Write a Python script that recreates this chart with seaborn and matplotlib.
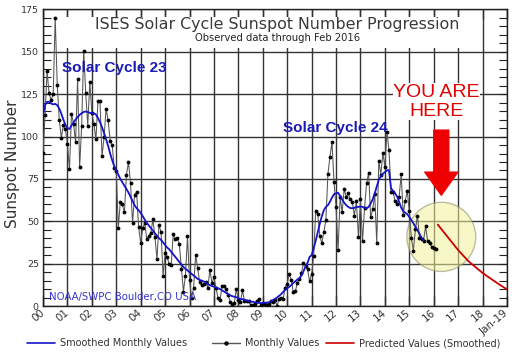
import numpy as np
import pandas as pd
import matplotlib
matplotlib.use("Agg")
import matplotlib.pyplot as plt
import seaborn as sns
from matplotlib.patches import Ellipse, Rectangle
from matplotlib.lines import Line2D
from matplotlib.ticker import MultipleLocator

# ---------------- data ----------------
start_year = 2000
# Monthly observed values, Jan 2000 .. Feb 2016
monthly_values = [
    90.1, 112.9, 138.5, 125.5, 121.6, 124.9, 170.1, 130.5, 109.7, 99.4, 106.8, 104.4,   # 2000
    95.6, 80.6, 113.5, 107.7, 96.6, 134.0, 81.8, 106.4, 150.7, 125.5, 106.5, 132.2,    # 2001
    114.1, 107.4, 98.4, 120.7, 120.8, 88.3, 99.6, 116.4, 109.6, 97.5, 95.0, 81.6,      # 2002
    79.5, 46.2, 61.5, 60.0, 55.2, 77.4, 85.0, 72.7, 48.8, 65.6, 67.2, 46.5,            # 2003
    37.2, 46.0, 48.9, 39.3, 41.5, 43.2, 51.1, 40.9, 27.7, 48.0, 43.5, 17.9,            # 2004
    31.3, 29.2, 24.5, 24.4, 42.6, 39.6, 39.9, 36.4, 22.1, 8.5, 18.0, 41.2,             # 2005
    15.3, 4.9, 10.6, 30.2, 22.3, 13.9, 12.2, 12.9, 14.4, 10.5, 21.4, 13.6,             # 2006
    16.9, 10.6, 4.8, 3.7, 11.7, 12.0, 10.0, 6.2, 2.4, 0.9, 1.7, 10.1,                  # 2007
    3.3, 2.1, 9.3, 2.9, 2.9, 3.1, 0.5, 0.5, 1.1, 2.9, 4.1, 0.8,                        # 2008
    1.5, 1.4, 0.7, 1.2, 2.9, 2.6, 3.5, 0.0, 4.3, 4.8, 4.1, 10.8,                       # 2009
    13.2, 18.8, 15.4, 8.0, 8.7, 13.6, 16.1, 19.6, 25.2, 23.5, 21.6, 14.5,              # 2010
    19.0, 29.4, 56.2, 54.4, 41.6, 37.0, 43.9, 50.6, 78.0, 88.0, 96.7, 73.0,            # 2011
    58.3, 32.9, 64.3, 55.2, 69.0, 64.5, 66.5, 63.0, 61.4, 53.3, 61.8, 40.8,            # 2012
    62.9, 38.1, 57.9, 72.4, 78.7, 52.5, 57.0, 66.0, 37.0, 85.6, 77.6, 90.3,            # 2013
    82.0, 102.8, 92.2, 67.5, 67.5, 61.7, 60.1, 64.1, 78.0, 54.0, 62.2, 67.7,           # 2014
    55.8, 40.0, 32.7, 45.2, 53.3, 39.9, 39.5, 38.6, 47.2, 38.2, 37.3, 34.8,            # 2015
    34.2, 33.8,                                                                        # 2016
]
# Smoothed monthly values, Jan 2000 .. Aug 2015
smoothed_values = [
    113, 118.5, 120.5, 120.5, 119.5, 119, 119.3, 118.5, 116.5, 113.5, 110, 107,
    105, 104.5, 106.5, 108.5, 110, 111.5, 112.8, 113.8, 114.5, 114.8, 114.5, 114,
    113.8, 113.8, 113, 111, 108.5, 105.5, 102, 98.5, 94.5, 90, 86, 82.5,
    80, 77.5, 75, 73, 71, 69, 67, 64.5, 62, 59.5, 57.7, 56.5,
    55, 53, 51, 49, 47.5, 46, 44.5, 43, 41.5, 40, 39, 37.5,
    36, 34.5, 33.5, 32, 30.5, 29, 27.5, 26, 24.5, 23, 22, 21,
    20, 19, 18, 17, 16, 15.4, 15, 14.5, 13.8, 13, 12.3, 11.8,
    11.4, 11, 10.5, 10, 9.2, 8.5, 7.7, 7, 6.3, 5.8, 5.5, 5.2,
    4.5, 4.1, 4, 3.8, 3.3, 2.9, 2.6, 2.5, 2.3, 2, 1.8, 1.7,
    1.8, 1.9, 2, 2.2, 2.7, 3.5, 4.2, 5, 6, 7, 8.3, 9.6,
    10.5, 11.3, 12.3, 13.6, 14.6, 15.6, 16.5, 17.9, 20.5, 23.2, 25.5, 29,
    30, 34, 38.5, 43.5, 48.5, 53, 56.5, 58.5, 59.5, 61.5, 64, 66,
    66.5, 66.8, 65, 62.8, 61, 59.5, 58.5, 57.8, 57.7, 58, 58.3, 58.5,
    58.7, 58.5, 58, 57.7, 58.5, 60.5, 63, 66.5, 70.5, 74.5, 76.5, 78,
    79, 80, 80.3, 69.5, 68, 66.5, 64.6, 61.5, 58, 56, 55, 54.2,
    52.5, 50.8, 48.8, 46.8, 44.8, 42.5, 40.3, 38.5,
]
# Predicted smoothed values, Mar 2016 .. Jan 2019
predicted_start = 2016 + 2 / 12
predicted_values = [
    48.0, 46.5, 45.0, 43.5, 42.0, 40.5, 39.0, 37.5, 36.0, 34.5,
    33.0, 31.7, 30.4, 29.1, 27.8, 26.5, 25.5, 24.5, 23.5, 22.5, 21.5, 20.5,
    19.5, 18.7, 17.8, 17.0, 16.2, 15.3, 14.5, 13.7, 12.9, 12.1, 11.3, 10.6,
    9.8,
]
tick_years = list(range(2000, 2020))
tick_labels = ['00', '01', '02', '03', '04', '05', '06', '07', '08', '09',
               '10', '11', '12', '13', '14', '15', '16', '17', '18', 'Jan-19']
y_ticks = [0, 25, 50, 75, 100, 125, 150, 175]

# ---------------- frames ----------------
df_m = pd.DataFrame({'t': start_year + np.arange(len(monthly_values)) / 12,
                     'v': monthly_values})
df_s = pd.DataFrame({'t': start_year + np.arange(len(smoothed_values)) / 12,
                     'v': smoothed_values})
df_p = pd.DataFrame({'t': predicted_start + np.arange(len(predicted_values)) / 12,
                     'v': predicted_values})

# ---------------- style ----------------
sns.set_style("white")
plt.rcParams['font.family'] = ['DejaVu Sans']

fig = plt.figure(figsize=(5.12, 3.57), dpi=100)
ax = fig.add_axes([43 / 512, 1 - 306 / 357, 464 / 512, 296.5 / 357])
ax.set_axisbelow(True)

grid_c = '#333333'
mono_c = '#555555'
blue_c = '#1414c8'
red_c = '#d00000'

sns.lineplot(data=df_m, x='t', y='v', ax=ax, color=mono_c, lw=0.75,
             marker='o', markersize=2.0, markerfacecolor='black',
             markeredgecolor='black', zorder=4)
sns.lineplot(data=df_s, x='t', y='v', ax=ax, color=blue_c, lw=1.3, zorder=5)
sns.lineplot(data=df_p, x='t', y='v', ax=ax, color=red_c, lw=1.3, zorder=5)

ax.set_xlim(2000, 2019)
ax.set_ylim(0, 175)
ax.set_xticks(tick_years)
ax.set_xticklabels(tick_labels, rotation=40, ha='right', va='center',
                   rotation_mode='anchor', fontsize=7.5, color='#333333')
ax.set_yticks(y_ticks)
ax.set_yticklabels([str(v) for v in y_ticks], fontsize=6.8, color='#333333')
ax.yaxis.set_minor_locator(MultipleLocator(5))
ax.tick_params(axis='y', which='both', direction='in', left=True, right=True,
               length=6, width=0.8, color='#222222', pad=3)
ax.tick_params(axis='x', which='both', direction='in', top=True, bottom=True,
               length=7, width=1.0, color=grid_c, pad=4)
ax.grid(True, which='major', color=grid_c, lw=1.0)
for s in ax.spines.values():
    s.set_color('#222222')
    s.set_linewidth(1.0)

ax.set_xlabel('')
ax.set_ylabel('Sunspot Number', fontsize=11, va='center', color='#333333')
ax.yaxis.set_label_coords(-31 / 464, 0.48)

# title box (white patch hiding grid)
ax.add_patch(Rectangle((2000.35, 152.3), 17.15, 18.4, fc='white', ec='none', zorder=1))
ax.text(2009.6, 166.4, 'ISES Solar Cycle Sunspot Number Progression',
        ha='center', va='center', fontsize=11.4, color='#3a3a3a', zorder=6)
ax.text(2009.6, 158.2, 'Observed data through Feb 2016',
        ha='center', va='center', fontsize=7.2, color='#222222', zorder=6)

# annotations
ax.text(2002.91, 140.4, 'Solar Cycle 23', ha='center', va='center',
        fontsize=11, fontweight='bold', color='#1a1ab4',
        family=['Liberation Sans'], zorder=6)
ax.text(2011.99, 105.2, 'Solar Cycle 24', ha='center', va='center',
        fontsize=11, fontweight='bold', color='#1a1ab4',
        family=['Liberation Sans'], zorder=6)
ax.text(2000.26, 5.5, 'NOAA/SWPC Boulder,CO USA', ha='left', va='center',
        fontsize=7.3, color='#3333cc', zorder=6)

ax.text(2016.11, 120.5, 'YOU ARE\nHERE', ha='center', va='center',
        fontsize=14, color='#e00000', family=['Liberation Sans'],
        linespacing=1.15, zorder=6,
        bbox=dict(fc='white', ec='none', pad=0.3))
ax.annotate('', xy=(2016.31, 65.4), xytext=(2016.31, 103.8),
            arrowprops=dict(arrowstyle='simple,head_length=1.66,head_width=2.38,tail_width=1.08',
                            fc='#ee0000', ec='#ee0000', shrinkA=0, shrinkB=0,
                            mutation_scale=10), zorder=7)

ax.add_patch(Ellipse((2016.31, 40.8), 2.82, 40.8, fc='#f2f29a', ec='#8a8a66',
                     lw=1.0, alpha=0.55, zorder=3))

# legend
handles = [
    Line2D([], [], color=blue_c, lw=1.2),
    Line2D([], [], color=mono_c, lw=1.0, marker='o', markersize=2.2,
           markerfacecolor='black', markeredgecolor='black'),
    Line2D([], [], color=red_c, lw=1.2),
]
labels = ['Smoothed Monthly Values', 'Monthly Values', 'Predicted Values (Smoothed)']
xs = [27, 212, 326]
for h, lab, x0 in zip(handles, labels, xs):
    fig.legend([h], [lab], loc='center left', bbox_to_anchor=(x0 / 512, 1 - 343 / 357),
               frameon=False, fontsize=7, handlelength=2.9, handletextpad=0.5,
               borderpad=0, borderaxespad=0, labelcolor='#333333')

fig.savefig('out.png', dpi=100)
